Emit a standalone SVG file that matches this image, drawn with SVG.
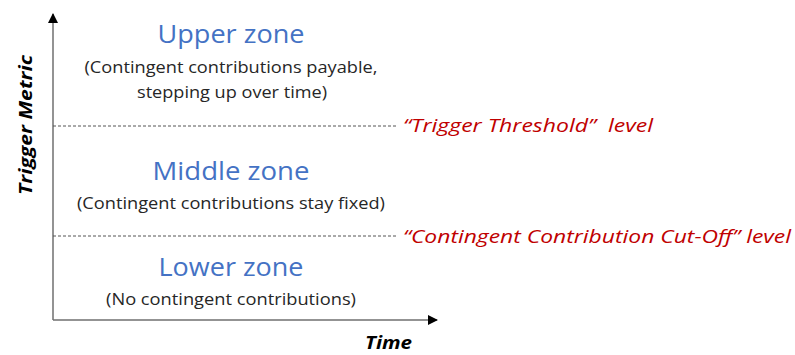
<svg xmlns="http://www.w3.org/2000/svg" width="795" height="355" viewBox="0 0 795 355">
<style>
text{font-family:"Open Sans","Noto Sans",sans-serif;}
.zone{fill:#4472C4;font-size:25px;text-anchor:middle;}
.desc{fill:#262626;font-size:16.5px;text-anchor:middle;}
.lvl{fill:#C00000;font-size:19px;font-style:italic;}
.ax{fill:#000;font-size:18px;font-weight:bold;font-style:italic;}
.dash{stroke:#555;stroke-width:1;stroke-dasharray:3,2;fill:none;}
.axis{stroke:#6f6f6f;stroke-width:1.5;fill:none;}
</style>
<defs>
<marker id="arr" viewBox="0 0 10 10" refX="9" refY="5" markerWidth="10" markerHeight="10" orient="auto" markerUnits="userSpaceOnUse">
<path d="M0,0 L10,5 L0,10 z" fill="#000"/>
</marker>
</defs>
<g id="connectors">
<line class="axis" x1="53" y1="320" x2="53" y2="14" marker-end="url(#arr)"/>
<line class="axis" x1="53" y1="320" x2="437" y2="320" marker-end="url(#arr)"/>
<line class="dash" x1="53" y1="126" x2="398" y2="126"/>
<line class="dash" x1="53" y1="236" x2="398" y2="236"/>
</g>
<g id="upper">
<text class="zone" x="231" y="43" textLength="147" lengthAdjust="spacingAndGlyphs">Upper zone</text>
<text class="desc" x="231" y="73" textLength="293" lengthAdjust="spacingAndGlyphs">(Contingent contributions payable,</text>
<text class="desc" x="232" y="98" textLength="190" lengthAdjust="spacingAndGlyphs">stepping up over time)</text>
</g>
<g id="middle">
<text class="zone" x="231" y="180" textLength="157" lengthAdjust="spacingAndGlyphs">Middle zone</text>
<text class="desc" x="231" y="209" textLength="308" lengthAdjust="spacingAndGlyphs">(Contingent contributions stay fixed)</text>
</g>
<g id="lower">
<text class="zone" x="231" y="276" textLength="145" lengthAdjust="spacingAndGlyphs">Lower zone</text>
<text class="desc" x="231" y="305" textLength="250" lengthAdjust="spacingAndGlyphs">(No contingent contributions)</text>
</g>
<g id="trigger-threshold">
<text class="lvl" x="403" y="132" textLength="250" lengthAdjust="spacingAndGlyphs" xml:space="preserve">“Trigger Threshold”  level</text>
</g>
<g id="cutoff">
<text class="lvl" x="403" y="243" textLength="388" lengthAdjust="spacingAndGlyphs">“Contingent Contribution Cut-Off” level</text>
</g>
<g id="axis-labels">
<text class="ax" x="365" y="349" textLength="47" lengthAdjust="spacingAndGlyphs">Time</text>
<text class="ax" transform="translate(32,125) rotate(-90)" text-anchor="middle" textLength="140" lengthAdjust="spacingAndGlyphs">Trigger Metric</text>
</g>
</svg>
